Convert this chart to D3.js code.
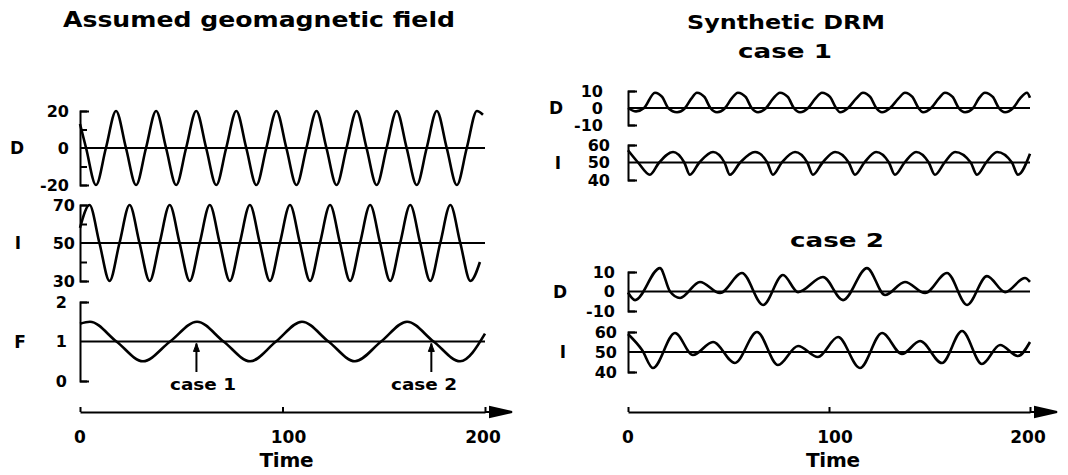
<!DOCTYPE html>
<html><head><meta charset="utf-8">
<script src="https://cdn.jsdelivr.net/npm/d3@7"></script>
<style>
html,body{margin:0;padding:0;background:#fff;}
text{font-family:"DejaVu Sans",sans-serif;font-weight:bold;fill:#000;}
</style></head>
<body>
<svg id="c" width="1068" height="475"></svg>
<script>
// ---------- data ----------
// Assumed field, left panel
const leftDTime = [0,3,7.9,12.8,17.8,22.7,27.7,32.6,37.6,42.5,47.5,52.4,57.4,62.3,67.3,72.2,77.2,82.1,87.1,92.0,97.0,101.9,106.9,111.8,116.8,121.7,126.7,131.6,136.6,141.5,146.5,151.4,156.4,161.3,166.3,171.2,176.2,181.1,186.1,191.0,196.0,199];
const leftDVal  = [13,0,-20,0,20,0,-20,0,20,0,-20,0,20,0,-20,0,20,0,-20,0,20,0,-20,0,20,0,-20,0,20,0,-20,0,20,0,-20,0,20,0,-20,0,20,18];
const leftITime = [0,4.7,9.6,14.6,19.5,24.5,29.4,34.4,39.3,44.3,49.2,54.2,59.1,64.1,69.0,74.0,78.9,83.9,88.8,93.8,98.7,103.7,108.6,113.6,118.5,123.5,128.4,133.4,138.3,143.3,148.2,153.2,158.1,163.1,168.0,173.0,177.9,182.9,187.8,192.8,197.5];
const leftIVal  = [58,70,50,30,50,70,50,30,50,70,50,30,50,70,50,30,50,70,50,30,50,70,50,30,50,70,50,30,50,70,50,30,50,70,50,30,50,70,50,30,40];
const leftFTime = [0,4.9,18,31.1,44.5,57.8,70.9,84,96.8,109.6,122.7,135.8,148.7,161.5,174.6,187.7,200];
const leftFVal  = [1.45,1.5,1,0.5,1,1.5,1,0.5,1,1.5,1,0.5,1,1.5,1,0.5,1.2];
// Synthetic DRM, case 1
const c1DTime = [0,4,8,13.4,17,20,24.4,28.4,31.5,34.3,38,41,44.3,48.3,51.5,54.7,58.5,61.5,64.7,68.7,72.2,75.6,79.5,82.5,85.6,89.6,93.2,96.5,100.5,103.5,105.5,109.5,113.5,116.9,120.5,123.5,126.4,130.4,134.5,137.8,141.5,144.5,146.8,150.8,154.5,157.7,161.5,164.5,167.7,171.7,174.5,177.6,181.5,184.5,187.6,191.6,195,198.5,200];
const c1DVal  = [0,-2,0,9,6.5,0,-2.5,0,5.5,9,6.5,0,-2.5,0,5.5,9,6.5,0,-2.5,0,5.5,9,6.5,0,-2.5,0,5.5,9,6.5,0,-2.5,0,5.5,9,6.5,0,-2.5,0,5.5,9,6.5,0,-2.5,0,5.5,9,6.5,0,-2.5,0,5.5,9,6.5,0,-2.5,0,5.5,9,6];
const c1ITime = [0,5,10.9,15.5,22.4,28,30.8,35.5,42.3,48,50.7,55.8,63.2,69.3,72.1,76.5,83.1,89.2,92,96.8,103,109.8,112.9,117.6,123.4,129.8,132.8,137.6,143.3,149.6,152.7,157.5,162.7,170.5,173.6,178.2,183.6,191,194,200];
const c1IVal  = [57,50,43,50,56,50,43,50,56,50,43,50,56,50,43,50,56,50,43,50,56,50,43,50,56,50,43,50,56,50,43,50,56,50,43,50,56,50,43,55];
// Synthetic DRM, case 2
const c2DTime = [0,3.5,15.9,20.9,25.9,35.8,45.8,56.7,67.2,77.1,84.6,97.0,107.0,118.9,127.9,137.8,147.8,158.7,168.7,178.6,187.6,197.5,200];
const c2DVal  = [-0.5,-4.4,12,0,-3.3,4.9,-0.8,9.5,-6.9,8.5,-0.3,7.4,-4.4,12,-1.8,4.9,-0.8,9.5,-6.9,7.9,-0.3,6.9,4.9];
const c2ITime = [0,7,12.4,23.4,32.3,42.3,53.2,64.2,74.6,84.6,94.5,104.5,115.4,126.4,136.3,145.3,156.2,166.2,176.1,185.1,194,200];
const c2IVal  = [59,51,42,59.5,48.5,55,44.5,60,43.5,53,47.5,57.5,42,59.5,49,55.5,44.5,60.5,44,53.5,48,55];
// tick labels
const timeTicks = [0,100,200];
const leftDLabels = [20,0,-20], leftDTicks = [20,10,-10,-20];
const leftILabels = [70,50,30], leftITicks = [70,60,40,30];
const leftFLabels = [2,1,0], leftFTicks = [2,0];
const rDLabels = [10,0,-10], rDTicks = [10,-10];
const rILabels = [60,50,40], rITicks = [60,40];

// ---------- drawing ----------
const svg = d3.select("#c");
const xL = d3.scaleLinear([0,200],[80,485]);
const xR = d3.scaleLinear([0,200],[628,1030]);

function panel(x, y, times, vals, ref, ticks, labels, name, labelRight, nameX){
  const g = svg.append("g");
  const ax = d3.axisLeft(y).tickValues(ticks).tickSizeInner(-7).tickSizeOuter(-9).tickFormat("");
  const ag = g.append("g").attr("transform",`translate(${x.range()[0]},0)`).call(ax);
  ag.selectAll("path,line").attr("stroke","#000").attr("stroke-width",2);
  g.selectAll("text.tl").data(labels).join("text").attr("class","tl")
    .attr("x",labelRight).attr("y",d=>y(d)).attr("dy","0.36em")
    .attr("text-anchor","end").attr("font-size",16).text(d=>String(d));
  g.append("text").attr("x",nameX).attr("y",y(ref)).attr("dy","0.36em")
    .attr("text-anchor","middle").attr("font-size",17).text(name);
  g.append("line").attr("x1",x.range()[0]).attr("x2",x.range()[1])
    .attr("y1",y(ref)).attr("y2",y(ref)).attr("stroke","#000").attr("stroke-width",2);
  const pts = times.map((t,i)=>[t,vals[i]]);
  g.append("path").datum(pts)
    .attr("d", d3.line().x(d=>x(d[0])).y(d=>y(d[1])).curve(d3.curveMonotoneX))
    .attr("fill","none").attr("stroke","#000").attr("stroke-width",2.6).attr("stroke-linejoin","round");
}

panel(xL, d3.scaleLinear([-20,20],[185,111]), leftDTime, leftDVal, 0, leftDTicks, leftDLabels, "D", 69, 17);
panel(xL, d3.scaleLinear([30,70],[281,205]), leftITime, leftIVal, 50, leftITicks, leftILabels, "I", 75, 18);
panel(xL, d3.scaleLinear([0,2],[381,302]), leftFTime, leftFVal, 1, leftFTicks, leftFLabels, "F", 67, 20);
panel(xR, d3.scaleLinear([-10,10],[125,91]), c1DTime, c1DVal, 0, rDTicks, rDLabels, "D", 603, 556);
panel(xR, d3.scaleLinear([40,60],[180,145]), c1ITime, c1IVal, 50, rITicks, rILabels, "I", 610, 558);
panel(xR, d3.scaleLinear([-10,10],[311,272]), c2DTime, c2DVal, 0, rDTicks, rDLabels, "D", 615, 560);
panel(xR, d3.scaleLinear([40,60],[372,332]), c2ITime, c2IVal, 50, rITicks, rILabels, "I", 617, 563);

function timeAxis(x){
  const yAx = 412;
  const ax = d3.axisTop(x).tickValues(timeTicks).tickSizeInner(5).tickSizeOuter(0).tickFormat("");
  const g = svg.append("g").attr("transform",`translate(0,${yAx})`).call(ax);
  g.selectAll("path,line").attr("stroke","#000").attr("stroke-width",2);
  const xe = x.range()[1];
  svg.append("path").attr("d",`M${xe},${yAx}L${xe+8},${yAx}M${xe+5},${yAx-5}L${xe+27},${yAx}L${xe+5},${yAx+5}Z`)
    .attr("stroke","#000").attr("stroke-width",2).attr("fill","#000");
  svg.selectAll(null).data(timeTicks).join("text").attr("x",d=>x(d)+(d===0?0:(d===200?-2:6))).attr("y",443)
    .attr("text-anchor","middle").attr("font-size",17).text(d=>d);
  svg.append("text").attr("x",x(100)+4).attr("y",467).attr("text-anchor","middle")
    .attr("font-size",20).attr("textLength",54).attr("lengthAdjust","spacing").text("Time");
}
timeAxis(xL); timeAxis(xR);

function title(txt,x,y,len,fs){
  svg.append("text").attr("x",x).attr("y",y).attr("font-size",fs)
    .attr("textLength",len).attr("lengthAdjust","spacingAndGlyphs").text(txt);
}
title("Assumed geomagnetic field",63,27,392,21);
title("Synthetic DRM",687,29,198,20);
title("case 1",738,58,94,19);
title("case 2",790,247,94,19);

const yF = d3.scaleLinear([0,2],[381,302]);
const cases = [{label:"case 1", t:57.5, cx:203},{label:"case 2", t:173.5, cx:424}];
cases.forEach(c=>{
  const xa = xL(c.t);
  svg.append("line").attr("x1",xa).attr("x2",xa).attr("y1",372).attr("y2",yF(0.95)).attr("stroke","#000").attr("stroke-width",2);
  svg.append("path").attr("d",`M${xa-3},${yF(0.95)+8}L${xa},${yF(0.95)}L${xa+3},${yF(0.95)+8}Z`).attr("fill","#000").attr("stroke","#000");
  svg.append("text").attr("x",c.cx).attr("y",390).attr("text-anchor","middle").attr("font-size",15)
    .attr("textLength",66).attr("lengthAdjust","spacingAndGlyphs").text(c.label);
});
</script>
</body></html>
